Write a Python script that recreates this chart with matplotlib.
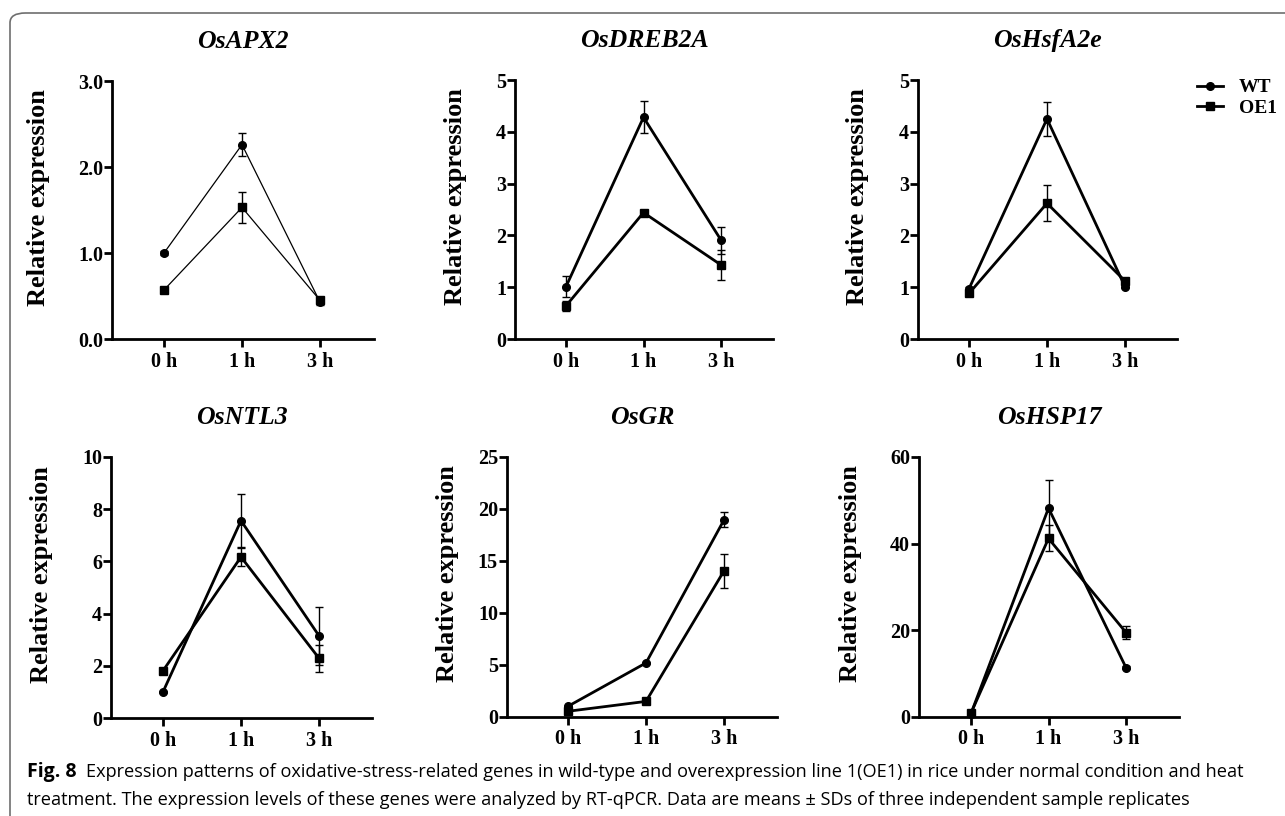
import matplotlib.pyplot as plt
import numpy as np
from matplotlib.patches import FancyBboxPatch
from matplotlib.lines import Line2D

# time points
times = ["0 h", "1 h", "3 h"]

genes = ["OsAPX2", "OsDREB2A", "OsHsfA2e", "OsNTL3", "OsGR", "OsHSP17"]

# means (WT / OE1) and SD
wt_apx2 = [1.00, 2.26, 0.43]
wt_apx2_sd = [0.02, 0.13, 0.03]
oe_apx2 = [0.57, 1.53, 0.45]
oe_apx2_sd = [0.02, 0.18, 0.03]

wt_dreb = [1.01, 4.28, 1.91]
wt_dreb_sd = [0.20, 0.31, 0.26]
oe_dreb = [0.64, 2.44, 1.43]
oe_dreb_sd = [0.10, 0.04, 0.29]

wt_hsf = [0.97, 4.25, 1.01]
wt_hsf_sd = [0.03, 0.33, 0.03]
oe_hsf = [0.88, 2.62, 1.12]
oe_hsf_sd = [0.04, 0.35, 0.05]

wt_ntl = [1.00, 7.56, 3.15]
wt_ntl_sd = [0.05, 1.02, 1.12]
oe_ntl = [1.81, 6.17, 2.29]
oe_ntl_sd = [0.08, 0.35, 0.52]

wt_gr = [1.03, 5.20, 18.95]
wt_gr_sd = [0.05, 0.10, 0.72]
oe_gr = [0.55, 1.50, 14.05]
oe_gr_sd = [0.05, 0.10, 1.62]

wt_hsp = [0.8, 48.2, 11.4]
wt_hsp_sd = [0.1, 6.6, 0.3]
oe_hsp = [0.9, 41.2, 19.5]
oe_hsp_sd = [0.1, 3.0, 1.5]

wt_all = [wt_apx2, wt_dreb, wt_hsf, wt_ntl, wt_gr, wt_hsp]
wt_sd_all = [wt_apx2_sd, wt_dreb_sd, wt_hsf_sd, wt_ntl_sd, wt_gr_sd, wt_hsp_sd]
oe_all = [oe_apx2, oe_dreb, oe_hsf, oe_ntl, oe_gr, oe_hsp]
oe_sd_all = [oe_apx2_sd, oe_dreb_sd, oe_hsf_sd, oe_ntl_sd, oe_gr_sd, oe_hsp_sd]

# y axis ticks of each panel
yticks_all = [[0, 1, 2, 3], [0, 1, 2, 3, 4, 5], [0, 1, 2, 3, 4, 5],
              [0, 2, 4, 6, 8, 10], [0, 5, 10, 15, 20, 25], [0, 20, 40, 60]]
ytick_labels_all = [["0.0", "1.0", "2.0", "3.0"], None, None, None, None, None]

# layout in pixels (left spine, top, right end, bottom) for a 1285x816 figure
W, H = 1285, 816
boxes = [(112, 81, 374, 339), (515, 80, 773, 339), (918, 80, 1177, 339),
         (111, 457, 372, 718), (507, 457, 777, 717), (919, 457, 1179, 717)]
first_tick = [164, 566, 969, 163, 568, 971]
tick_step = [78, 77.5, 78, 78, 78, 77.5]
ylabel_x = [50, 467, 869, 53, 459, 862]   # right edge of the rotated label
line_w = [0.9, 2.0, 2.0, 2.0, 2.0, 2.0]

serif = ["Liberation Serif", "DejaVu Serif"]

fig = plt.figure(figsize=(W / 100, H / 100), dpi=100)

# rounded frame (only top and left edges visible in the original crop)
frame = FancyBboxPatch((10 / W, -0.2), 1.5, 1.2 - 13 / H,
                       boxstyle="round,pad=0,rounding_size=0.012",
                       transform=fig.transFigure, facecolor="none",
                       edgecolor="#6e6e6e", linewidth=1.2, clip_on=False)
fig.patches.append(frame)

x = np.arange(len(times))
for i in range(6):
    l, t, r, b = boxes[i]
    ax = fig.add_axes([l / W, 1 - b / H, (r - l) / W, (b - t) / H])
    lw = line_w[i]
    ax.errorbar(x, wt_all[i], yerr=wt_sd_all[i], color="black", lw=lw,
                marker="o", ms=5.5, capsize=3, elinewidth=1.0, capthick=1.0,
                clip_on=False)
    ax.errorbar(x, oe_all[i], yerr=oe_sd_all[i], color="black", lw=lw,
                marker="s", ms=5.5, capsize=3, elinewidth=1.0, capthick=1.0,
                clip_on=False)

    # x limits so ticks sit where they are in the picture
    x0 = -(first_tick[i] - l) / tick_step[i]
    x1 = 2 + (r - (first_tick[i] + 2 * tick_step[i])) / tick_step[i]
    ax.set_xlim(x0, x1)
    yt = yticks_all[i]
    ax.set_ylim(0, yt[-1])
    ax.set_yticks(yt)
    if ytick_labels_all[i] is not None:
        ax.set_yticklabels(ytick_labels_all[i])
    ax.set_xticks(x)
    ax.set_xticklabels(times)

    for s in ["top", "right"]:
        ax.spines[s].set_visible(False)
    for s in ["left", "bottom"]:
        ax.spines[s].set_linewidth(2.0)
    ax.tick_params(axis="y", length=5.5, width=2, pad=1)
    ax.tick_params(axis="x", length=6, width=2, pad=3)
    for lab in ax.get_xticklabels() + ax.get_yticklabels():
        lab.set_family(serif)
        lab.set_fontweight("bold")
        lab.set_fontsize(14.5)

    ax.set_ylabel("Relative expression", family=serif, fontweight="bold",
                  fontsize=19)
    ax.yaxis.set_label_coords(-(l - ylabel_x[i]) / (r - l), 0.55)
    ax.set_title(genes[i], family=serif, fontweight="bold", style="italic",
                 fontsize=18.5, pad=24)
    ax.patch.set_alpha(0)

# legend
handles = [Line2D([], [], color="black", lw=2, marker="o", ms=5.5),
           Line2D([], [], color="black", lw=2, marker="s", ms=5.5)]
fig.legend(handles, ["WT", "OE1"], loc="upper left",
           bbox_to_anchor=(1187 / W, 1 - 69 / H), frameon=False, borderpad=0,
           handlelength=1.35, handletextpad=0.8, labelspacing=0.15,
           prop={"family": serif, "weight": "bold", "size": 14})

# caption
cap_font = ["Open Sans", "DejaVu Sans"]
fig.text(27 / W, 1 - 777 / H, "Fig. 8", family=cap_font, fontweight="bold",
         fontsize=14, va="baseline")
fig.text(86 / W, 1 - 777 / H,
         "Expression patterns of oxidative-stress-related genes in wild-type and "
         "overexpression line 1(OE1) in rice under normal condition and heat",
         family=cap_font, fontsize=13.1, va="baseline")
fig.text(27 / W, 1 - 805 / H,
         "treatment. The expression levels of these genes were analyzed by RT-qPCR. "
         "Data are means \u00b1 SDs of three independent sample replicates",
         family=cap_font, fontsize=13.1, va="baseline")

fig.savefig("out.png", dpi=100)
